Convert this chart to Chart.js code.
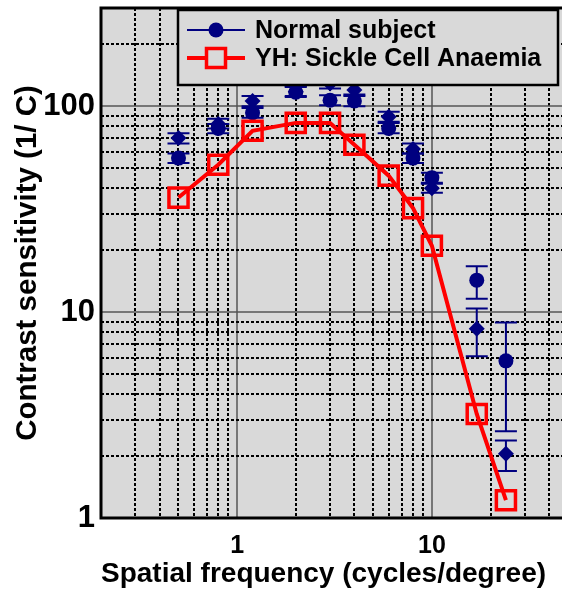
<!DOCTYPE html>
<html>
<head>
<meta charset="utf-8">
<script src="https://cdn.jsdelivr.net/npm/chart.js@4"></script>
<style>
  html, body { margin: 0; padding: 0; background: #fff; overflow: hidden; }
  #wrap { position: relative; width: 575px; height: 605px; }
</style>
</head>
<body>
<div id="wrap"><canvas id="csf" width="575" height="605"></canvas></div>
<script>
// Spatial frequencies (cycles/degree)
const freqs = [0.5, 0.8, 1.2, 2, 3, 4, 6, 8, 10, 17, 24];

// YH: Sickle Cell Anaemia
const sickleCell = [36, 52, 76, 83, 83, 65, 46, 32, 21, 3.2, 1.22];

// Normal subject - circles, with error bar ends
const normalCircle     = [56, 78, 93, 117, 107, 106, 78, 56, 45, 14.3, 5.8];
const normalCircleLow  = [53, 74, 88, 111, 101, 100, 74, 53, 42, 11.6, 2.64];
const normalCircleHigh = [59, 82, 98, 124, 113, 112, 83, 59, 47.5, 16.7, 8.9];

// Normal subject - diamonds (second run), with error bar ends
const normalDiamond     = [70, 82, 106, 118, 129, 120, 89, 62, 40, 8.3, 2.05];
const normalDiamondLow  = [66, 78, 100, 112, 122, 114, 84, 59, 38, 6.1, 1.69];
const normalDiamondHigh = [74, 87, 112, 125, 136, 127, 94, 66, 42.5, 10.4, 2.38];

// axes
const xTicks = [0.2, 0.3, 0.4, 0.5, 0.6, 0.7, 0.8, 0.9, 1, 2, 3, 4, 5, 6, 7, 8, 9, 10, 20, 30, 40, 50];
const xLabels = [1, 10];
const yTicks = [1, 2, 3, 4, 5, 6, 7, 8, 9, 10, 20, 30, 40, 50, 60, 70, 80, 90, 100, 200, 300];
const yLabels = [1, 10, 100];

const NAVY = '#000080';
const RED = '#ff0000';
const PLOT_BG = '#d9d9d9';
const FONT = '"Liberation Sans", Arial, sans-serif';

const toPoints = (xs, ys) => xs.map((x, i) => ({ x: x, y: ys[i] }));

const errorBars = [
  { values: normalCircle, low: normalCircleLow, high: normalCircleHigh },
  { values: normalDiamond, low: normalDiamondLow, high: normalDiamondHigh }
];

// background + dotted grid, drawn under the data
const gridPlugin = {
  id: 'csfGrid',
  beforeDatasetsDraw(chart) {
    const { ctx, chartArea: a, scales: { x, y } } = chart;
    ctx.save();
    ctx.fillStyle = PLOT_BG;
    ctx.fillRect(a.left, a.top, a.right - a.left, a.bottom - a.top);

    xTicks.forEach(v => {
      const px = Math.round(x.getPixelForValue(v));
      const major = xLabels.includes(v);
      ctx.beginPath();
      ctx.lineWidth = major ? 1.5 : 2;
      ctx.strokeStyle = major ? '#555' : '#000';
      ctx.setLineDash(major ? [] : [3, 2]);
      ctx.moveTo(px, a.top);
      ctx.lineTo(px, a.bottom);
      ctx.stroke();
    });
    yTicks.forEach(v => {
      const py = Math.round(y.getPixelForValue(v));
      const major = yLabels.includes(v);
      ctx.beginPath();
      ctx.lineWidth = major ? 1.5 : 2;
      ctx.strokeStyle = major ? '#555' : '#000';
      ctx.setLineDash(major ? [] : [3, 2]);
      ctx.moveTo(a.left, py);
      ctx.lineTo(a.right, py);
      ctx.stroke();
    });
    ctx.setLineDash([]);

    // error bars for the normal subject
    ctx.strokeStyle = NAVY;
    ctx.lineWidth = 2;
    errorBars.forEach(set => {
      freqs.forEach((f, i) => {
        const px = x.getPixelForValue(f);
        const top = y.getPixelForValue(set.high[i]);
        const bot = y.getPixelForValue(set.low[i]);
        ctx.beginPath();
        ctx.moveTo(px, top);
        ctx.lineTo(px, bot);
        ctx.moveTo(px - 11, top);
        ctx.lineTo(px + 11, top);
        ctx.moveTo(px - 11, bot);
        ctx.lineTo(px + 11, bot);
        ctx.stroke();
      });
    });
    ctx.restore();
  }
};

// frame and the legend box, drawn on top
const framePlugin = {
  id: 'csfFrame',
  afterDraw(chart) {
    const { ctx, chartArea: a } = chart;
    ctx.save();
    ctx.strokeStyle = '#000';
    ctx.lineWidth = 3;
    ctx.beginPath();
    ctx.moveTo(a.right + 5, a.top);
    ctx.lineTo(a.left, a.top);
    ctx.lineTo(a.left, a.bottom);
    ctx.lineTo(a.right + 5, a.bottom);
    ctx.stroke();

    // legend
    const bx = 178, by = 10, bw = 380, bh = 75;
    ctx.fillStyle = PLOT_BG;
    ctx.fillRect(bx, by, bw, bh);
    ctx.lineWidth = 2.5;
    ctx.strokeRect(bx, by, bw, bh);

    const rows = [
      { text: 'Normal subject', y: 30, kind: 'circle' },
      { text: 'YH: Sickle Cell Anaemia', y: 58, kind: 'square' }
    ];
    rows.forEach(r => {
      ctx.beginPath();
      ctx.strokeStyle = r.kind === 'circle' ? NAVY : RED;
      ctx.lineWidth = r.kind === 'circle' ? 2 : 4;
      ctx.moveTo(187, r.y);
      ctx.lineTo(245, r.y);
      ctx.stroke();
      if (r.kind === 'circle') {
        ctx.fillStyle = NAVY;
        ctx.beginPath();
        ctx.arc(216, r.y, 7.5, 0, Math.PI * 2);
        ctx.fill();
      } else {
        ctx.lineWidth = 3.5;
        ctx.fillStyle = PLOT_BG;
        ctx.fillRect(206.5, r.y - 9.5, 19, 19);
        ctx.strokeRect(206.5, r.y - 9.5, 19, 19);
      }
      ctx.fillStyle = '#000';
      ctx.font = 'bold 25px ' + FONT;
      ctx.textBaseline = 'middle';
      ctx.textAlign = 'left';
      ctx.fillText(r.text, 255, r.y + 1);
    });
    ctx.restore();
  }
};

new Chart(document.getElementById('csf'), {
  type: 'line',
  data: {
    datasets: [
      {
        label: 'YH: Sickle Cell Anaemia',
        data: toPoints(freqs, sickleCell),
        borderColor: RED,
        borderWidth: 4,
        backgroundColor: 'transparent',
        pointStyle: 'rect',
        pointRadius: 13.5,
        pointBorderWidth: 3.5,
        pointBorderColor: RED,
        pointBackgroundColor: 'transparent',
        tension: 0
      },
      {
        label: 'Normal subject',
        data: toPoints(freqs, normalCircle),
        showLine: false,
        pointStyle: 'circle',
        pointRadius: 7.5,
        pointBorderWidth: 0,
        pointBackgroundColor: NAVY,
        pointBorderColor: NAVY
      },
      {
        label: 'Normal subject (2)',
        data: toPoints(freqs, normalDiamond),
        showLine: false,
        pointStyle: 'rectRot',
        pointRadius: 8,
        pointBorderWidth: 0,
        pointBackgroundColor: NAVY,
        pointBorderColor: NAVY
      }
    ]
  },
  options: {
    responsive: false,
    animation: false,
    events: [],
    layout: { autoPadding: false, padding: { top: 8, right: 7, left: 0, bottom: 0 } },
    plugins: {
      legend: { display: false },
      tooltip: { enabled: false }
    },
    scales: {
      x: {
        type: 'logarithmic',
        min: 0.2,
        max: 50,
        afterBuildTicks: scale => { scale.ticks = xTicks.map(v => ({ value: v })); },
        afterFit: scale => {
          scale.height = 87;
          scale.paddingLeft = 0;
          scale.paddingRight = 0;
        },
        grid: { display: false, drawTicks: false },
        border: { display: false },
        ticks: {
          autoSkip: false,
          maxRotation: 0,
          padding: 13,
          color: '#000',
          font: { family: FONT, size: 25, weight: 'bold' },
          callback: v => xLabels.includes(v) ? String(v) : ''
        },
        title: {
          display: true,
          align: 'start',
          text: 'Spatial frequency (cycles/degree)',
          color: '#000',
          font: { family: FONT, size: 28, weight: 'bold' },
          padding: { top: 0, bottom: 14 }
        }
      },
      y: {
        type: 'logarithmic',
        min: 1,
        max: 300,
        afterBuildTicks: scale => { scale.ticks = yTicks.map(v => ({ value: v })); },
        afterFit: scale => {
          scale.width = 101;
          scale.paddingTop = 0;
          scale.paddingBottom = 0;
        },
        grid: { display: false, drawTicks: false },
        border: { display: false },
        ticks: {
          autoSkip: false,
          padding: 6,
          color: '#000',
          font: { family: FONT, size: 31, weight: 'bold' },
          callback: v => yLabels.includes(v) ? String(v) : ''
        },
        title: {
          display: true,
          text: 'Contrast sensitivity (1/ C)',
          color: '#000',
          font: { family: FONT, size: 29.5, weight: 'bold' },
          padding: { top: 10, bottom: 0 }
        }
      }
    }
  },
  plugins: [gridPlugin, framePlugin]
});
</script>
</body>
</html>
